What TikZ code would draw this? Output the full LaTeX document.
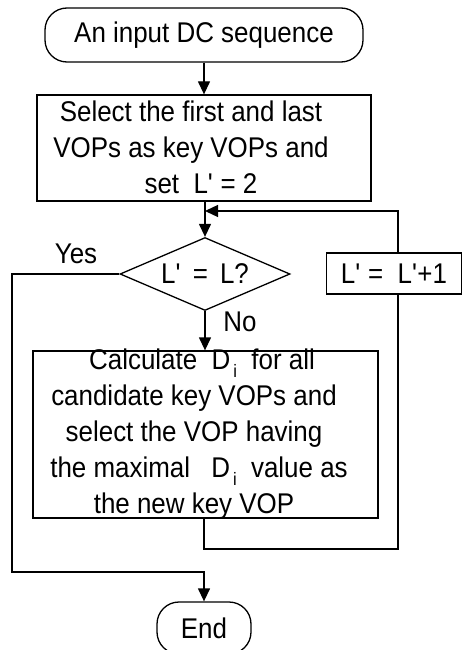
\documentclass[tikz,border=0pt]{standalone}
\usepackage{fontspec}
\setmainfont{Liberation Sans}[FakeStretch=0.91]
\usetikzlibrary{shapes.geometric,arrows.meta}
\tikzset{%
    blk/.style={draw,line width=1.3pt,inner sep=0pt,align=center,font=\fontsize{28.5}{36}\selectfont},
    term/.style={blk,rounded corners=22pt},
    cond/.style={blk,diamond,aspect=2.33},
    lines/.style={inner sep=0pt,align=center,font=\fontsize{28.5}{36}\selectfont},
    txt/.style={inner sep=0pt,anchor=base,font=\fontsize{28.5}{36}\selectfont},
    flow/.style={line width=1.3pt,-{Triangle[length=13pt,width=12pt]}},
    wire/.style={line width=1.3pt}
}
\newcommand{\Lq}{L\textquotesingle}
\newcommand{\Di}{D\raisebox{-0.55ex}{\fontsize{18}{18}\selectfont\,i}}

\begin{document}
\begin{tikzpicture}[x=1pt,y=-1pt]
    \useasboundingbox (0,0) rectangle (462,650);
    \node[term,minimum width=318pt,minimum height=54pt] (start) at (204,35) {An input DC sequence};
    \node[blk,minimum width=334pt,minimum height=106pt] (init) at (204,148) {};
    \node[lines] (initText) at (191,147) {Select the first and last\\VOPs as key VOPs and\\\hspace*{20pt}set \ \Lq{} = 2};
    \node[cond,minimum width=170pt,minimum height=73pt] (test) at (205,274) {\Lq\,{} = \,L?};
    \node[blk,minimum width=135pt,minimum height=41pt] (inc) at (394,273.5) {\Lq{} = \ \Lq+1};
    \node[blk,minimum width=345pt,minimum height=167pt] (calc) at (205.5,434.5) {};
    \node[lines] (calcText) at (194,434)
        {\hspace*{16pt}Calculate \ \Di{} \ for all\\candidate key VOPs and\\select the VOP having\\\hspace*{10pt}the maximal \hspace{14pt}\Di{} \ value as\\the new key VOP};
    \node[term,minimum width=94pt,minimum height=52pt] (end) at (204,628) {End};
    \node[txt] (yes) at (76,263) {Yes};
    \node[txt] (no) at (240,331) {No};

    \coordinate (join) at (205,211);
    \coordinate (back) at (398,549);
    \coordinate (left) at (12,572);

    \draw[flow] (start) -- (init);
    \draw[flow] (init.south -| test.north) -- (test.north);
    \draw[flow] (test) -- (test.south |- calc.north);
    % loop back through L' = L'+1
    \draw[wire] (calc.south -| end) |- (back) -- (back |- inc.south);
    \draw[flow] (back |- inc.north) |- (join);
    % exit when L' = L
    \draw[flow] (test.west) -| (left) -| (end.north);
\end{tikzpicture}
\end{document}
